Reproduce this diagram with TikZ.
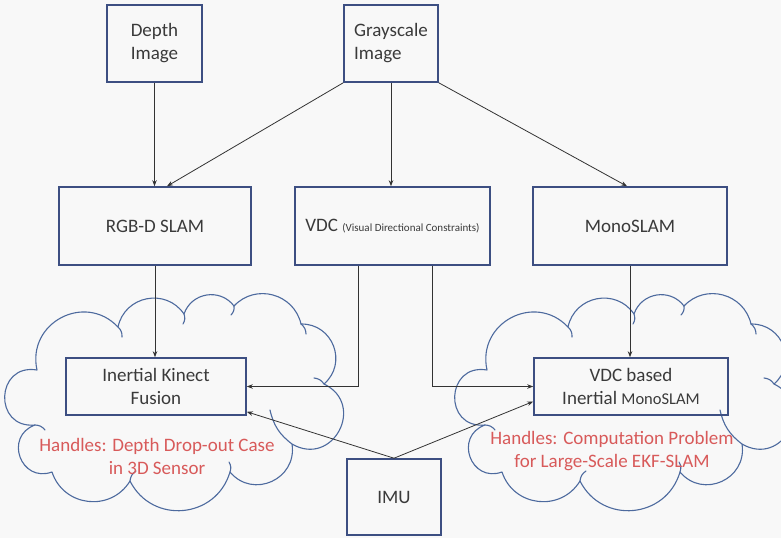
\documentclass[tikz,border=0pt]{standalone}
\usepackage{fontspec}
\setmainfont{Carlito}
\usetikzlibrary{arrows.meta,calc}

\definecolor{bgc}{HTML}{F8F8F8}
\definecolor{boxc}{HTML}{3D4F82}
\definecolor{cloudc}{HTML}{4D6A9E}
\definecolor{txtc}{HTML}{3A3A3A}
\definecolor{redc}{HTML}{D85A5A}

\tikzset{
  stagebox/.style={draw=boxc, line width=1.6pt, inner sep=0pt, text=txtc,
    font=\fontsize{19}{23}\selectfont, align=center},
  cloudline/.style={draw=cloudc, line width=1.1pt, line cap=round, line join=round},
  note/.style={text=redc, font=\fontsize{19}{23}\selectfont, align=center},
  arr/.style={draw=black!80, line width=0.8pt, -{Stealth[length=6pt,width=4.5pt]}},
  % circular puff between two seam points; #1 = bulge / chord length
  puff/.code={%
    \pgfmathsetmacro\puffang{2*atan(2*#1)}%
    \pgfmathsetmacro\puffloose{(4/3)*#1/(sin(\puffang)*0.3915)}%
    \edef\pufftmp{\noexpand\tikzset{bend left=\puffang, looseness=\puffloose}}%
    \pufftmp},
  % irregular cloud outline with the small inner arcs at the seams
  pics/pcloud/.style={code={
    \draw[cloudline]
      (37,370) to[puff=0.38] (118,327)
               to[puff=0.33] (184,314)
               to[puff=0.30] (234,306)
               to[puff=0.30] (301,324)
               to[puff=0.35] (324,384)
               to[puff=0.52] (292,444)
               to[puff=0.38] (230,472)
               to[puff=0.34] (130,481)
               to[puff=0.32] (52,472)
               to[puff=0.50] (35,425)
               to[puff=0.57] (37,370);
    \draw[cloudline] (118,327) to[bend left=25] (122,337);
    \draw[cloudline] (184,314) to[bend left=25] (183,324);
    \draw[cloudline] (234,306) to[bend left=25] (231,315);
    \draw[cloudline] (301,324) to[bend left=25] (306,334);
    \draw[cloudline] (324,384) to[bend right=25] (314,378);
    \draw[cloudline] (292,444) to[bend left=20] (270,410);
    \draw[cloudline] (230,472) to[bend right=25] (229,462);
    \draw[cloudline] (130,481) to[bend left=25] (136,471);
    \draw[cloudline] (35,425) to[bend left=25] (45,430);
  }}
}

\begin{document}
\begin{tikzpicture}[x=1pt,y=-1pt]
  \fill[bgc] (0,0) rectangle (781,538);
  \useasboundingbox (0,0) rectangle (781,538);
  \clip (0,0) rectangle (781,538);

  % clouds behind the fusion blocks
  \pic at (0,0) {pcloud};
  \pic at (450,0) {pcloud};

  % sensor inputs
  \node[stagebox, minimum width=95pt, minimum height=77pt, align=left] (depth) at (154.5,43.5) {Depth\\Image};
  \node[stagebox, minimum width=94pt, minimum height=77pt, align=left] (gray) at (391,43.5) {Grayscale\\Image};

  % front ends
  \node[stagebox, minimum width=192pt, minimum height=78pt] (rgbd) at (155,226) {RGB-D SLAM};
  \node[stagebox, minimum width=195pt, minimum height=78pt] (vdc) at (392.5,226)
    {VDC {\fontsize{11}{13}\selectfont (Visual Directional Constraints)}};
  \node[stagebox, minimum width=194pt, minimum height=78pt] (mono) at (630,226) {MonoSLAM};

  % fusion blocks
  \node[stagebox, minimum width=180pt, minimum height=57pt] (ikf) at (156,386.5) {Inertial Kinect\\Fusion};
  \node[stagebox, minimum width=194pt, minimum height=57pt] (vdcb) at (631,386.5)
    {VDC based\\Inertial {\fontsize{16.5}{20}\selectfont MonoSLAM}};

  \node[stagebox, minimum width=94pt, minimum height=76pt] (imu) at (394,497) {IMU};

  % notes inside the clouds
  \node[note] (nl) at (157,456) {Handles: Depth Drop-out Case\\in 3D Sensor};
  \node[note] (nr) at (612,451) {Handles: Computation Problem\\for Large-Scale EKF-SLAM};

  % connectors
  \draw[arr] (depth.south) -- (depth.south |- rgbd.north);
  \draw[arr] (gray.south west) -- ($(rgbd.north)+(12,0)$);
  \draw[arr] (gray.south) -- (gray.south |- vdc.north);
  \draw[arr] (gray.south east) -- ($(mono.north)+(-3,0)$);

  \draw[arr] (rgbd.south) -- (rgbd.south |- ikf.north);
  \draw[arr] (mono.south) -- (mono.south |- vdcb.north);
  \draw[arr] ($(vdc.south)+(-34.5,0)$) |- (ikf.east);
  \draw[arr] ($(vdc.south)+(39.5,0)$) |- (vdcb.west);

  \draw[arr] (imu.north) -- ($(ikf.south east)+(0,-4)$);
  \draw[arr] (imu.north) -- ($(vdcb.west)+(0,15)$);
\end{tikzpicture}
\end{document}
